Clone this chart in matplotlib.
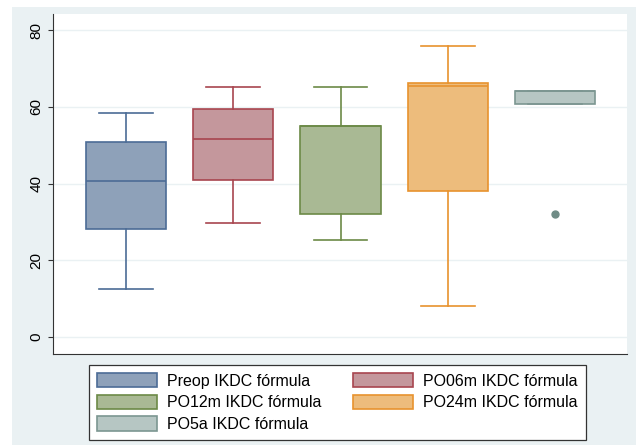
import numpy as np
import matplotlib.pyplot as plt
from matplotlib.patches import Patch, Rectangle

plt.rcParams['font.family'] = ['Liberation Sans', 'DejaVu Sans']

# box summary values
labels = ['Preop IKDC fórmula', 'PO06m IKDC fórmula', 'PO12m IKDC fórmula',
          'PO24m IKDC fórmula', 'PO5a IKDC fórmula']
whis_lo = [12.6, 29.8, 25.2, 8.0, 60.8]
q1 = [28.2, 40.9, 32.1, 38.0, 60.8]
median = [40.6, 51.7, 55.1, 65.5, 64.1]
q3 = [50.9, 59.5, 55.1, 66.3, 64.1]
whis_hi = [58.4, 65.3, 65.3, 75.8, 64.1]
outliers = [[], [], [], [], [32.0]]

face_colors = ['#8EA1B9', '#C4979C', '#A9B994', '#EDBC7C', '#B6C6C3']
edge_colors = ['#4C6C96', '#A8454F', '#6C8A47', '#E8922E', '#7C9691']

fig = plt.figure(figsize=(6.36, 4.45), dpi=100)
fig.patch.set_facecolor('white')
fig.patches.append(Rectangle((12 / 636, 0), 1, 1 - 7 / 445, transform=fig.transFigure,
                             facecolor='#EAF1F3', edgecolor='none', zorder=-10))

ax = fig.add_axes([53 / 636, 91 / 445, 574 / 636, 340 / 445])
ax.set_facecolor('white')

positions = np.arange(1, len(labels) + 1)
for i in range(len(labels)):
    stats = [{'med': median[i], 'q1': q1[i], 'q3': q3[i],
              'whislo': whis_lo[i], 'whishi': whis_hi[i],
              'fliers': outliers[i]}]
    ec = edge_colors[i]
    ax.bxp(stats, positions=[positions[i]], widths=0.75, patch_artist=True,
           capwidths=0.5,
           boxprops=dict(facecolor=face_colors[i], edgecolor=ec, linewidth=1.2),
           medianprops=dict(color=ec, linewidth=1.2),
           whiskerprops=dict(color=ec, linewidth=1.2),
           capprops=dict(color=ec, linewidth=1.2),
           flierprops=dict(marker='o', markersize=5, markerfacecolor='#6F8C86',
                           markeredgecolor='#6F8C86'))

ax.set_xlim(0.32, 5.67)
ax.set_ylim(-4.4, 84.2)
ax.set_yticks([0, 20, 40, 60, 80])
ax.set_xticks([])
ax.tick_params(axis='y', labelsize=11, labelrotation=90, color='#333333')
for lbl in ax.get_yticklabels():
    lbl.set_va('center')
ax.yaxis.grid(True, color='#EAF1F3', linewidth=1)
ax.set_axisbelow(True)
for side in ['top', 'right']:
    ax.spines[side].set_visible(False)
ax.spines['left'].set_color('#333333')
ax.spines['bottom'].set_color('#333333')

# legend filled row by row like the original
order = [0, 2, 4, 1, 3]
handles = [Patch(facecolor=face_colors[i], edgecolor=edge_colors[i], linewidth=1.2)
           for i in order]
leg = fig.legend(handles, [labels[i] for i in order], ncol=2, loc='upper left',
                 bbox_to_anchor=(89 / 636, 1 - 365 / 445), borderaxespad=0,
                 fontsize=11.5, handlelength=3.75, handleheight=1.0,
                 labelspacing=0.38, columnspacing=2.0, handletextpad=0.63,
                 borderpad=0.5, fancybox=False, edgecolor='#333333', framealpha=1)
leg.get_frame().set_linewidth(0.9)

plt.savefig('out.png', dpi=100)
